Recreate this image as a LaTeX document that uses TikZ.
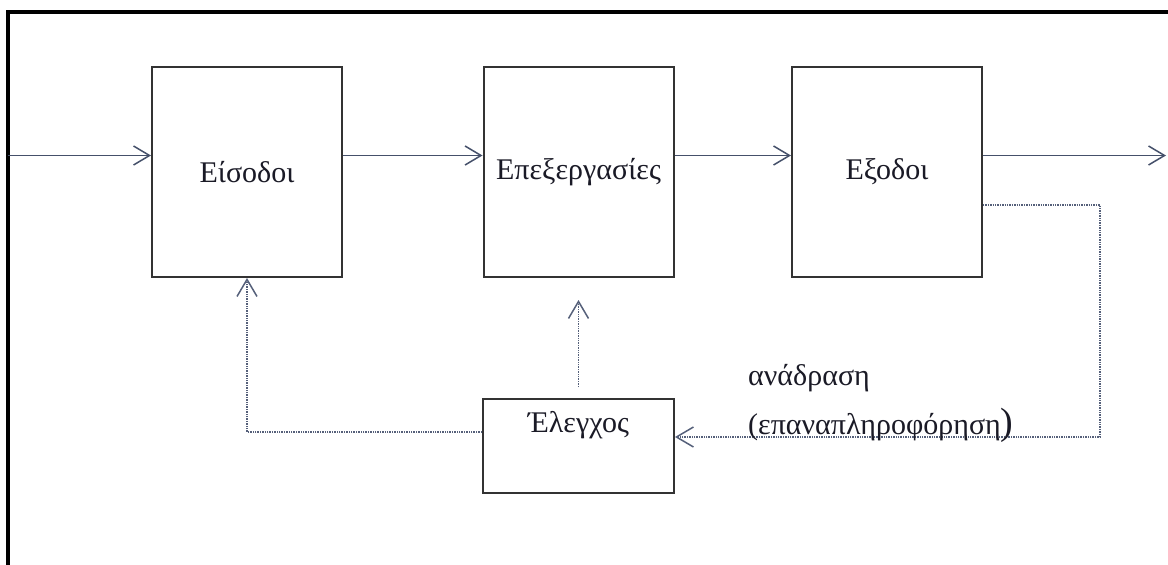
\documentclass[tikz,border=0pt]{standalone}
\usepackage{fontspec}
\setmainfont{Liberation Serif}
\usetikzlibrary{arrows.meta}
\definecolor{linec}{HTML}{45506A}
\definecolor{boxc}{HTML}{333333}
\definecolor{txtc}{HTML}{1A1A26}
\definecolor{dotc}{HTML}{55607A}
\tikzset{
  blockbox/.style={draw=boxc, line width=2pt, minimum width=190pt, minimum height=210pt, inner sep=0pt, font=\fontsize{30}{36}\selectfont, text=txtc},
  ctlbox/.style={draw=boxc, line width=2pt, minimum width=191pt, minimum height=94pt, inner sep=0pt},
  lbl/.style={font=\fontsize{30}{36}\selectfont, text=txtc, inner sep=0pt},
  flow/.style={draw=linec, line width=1.7pt, -{Straight Barb[length=16pt, width=19pt, line width=1.5pt]}},
  fb/.style={draw=dotc, line width=1.4pt, densely dotted, -{Straight Barb[length=17pt, width=20pt, line width=1.5pt, sep=0pt]}},
  frameline/.style={draw=black, line width=3.2pt}
}
\begin{document}
\begin{tikzpicture}[x=1pt, y=-1pt]
\useasboundingbox (0,0) rectangle (1168,565);
\fill[white] (0,0) rectangle (1168,565);
\draw[frameline] (8,567) -- (8,12) -- (1170,12);

\node[blockbox] (b1) at (247,172) {Είσοδοι};
\node[blockbox] (b2) at (578.5,172) {Επεξεργασίες};
\node[blockbox] (b3) at (887,172) {Εξοδοι};
\node[ctlbox] (ctl) at (578.5,446) {};
\node[lbl] (ctltxt) at ([yshift=-27pt]ctl.north) {Έλεγχος};

\coordinate (inp) at (8,155.5);
\coordinate (outp) at (1166,155.5);
\draw[flow] (inp) -- ([yshift=16.5pt]b1.west);
\draw[flow] ([yshift=16.5pt]b1.east) -- ([yshift=16.5pt]b2.west);
\draw[flow] ([yshift=16.5pt]b2.east) -- ([yshift=16.5pt]b3.west);
\draw[flow] ([yshift=16.5pt]b3.east) -- (outp);

\coordinate (fbr) at (1100,205);
\coordinate (fbd) at (1100,437);
\draw[fb] ([yshift=-33pt]b3.east) -- (fbr) -- (fbd) -- ([yshift=9pt]ctl.east);
\draw[fb] ([yshift=14pt]ctl.west) -| (b1.south);
\coordinate (upa) at (578.5,387);
\coordinate (upb) at (578.5,300);
\draw[fb] (upa) -- (upb);

\node[lbl, anchor=west] (fbl1) at (748,378) {ανάδραση};
\node[lbl, anchor=west] (fbl2) at (748,425) {(επαναπληροφόρηση{\fontsize{38}{38}\selectfont)}};
\end{tikzpicture}
\end{document}
